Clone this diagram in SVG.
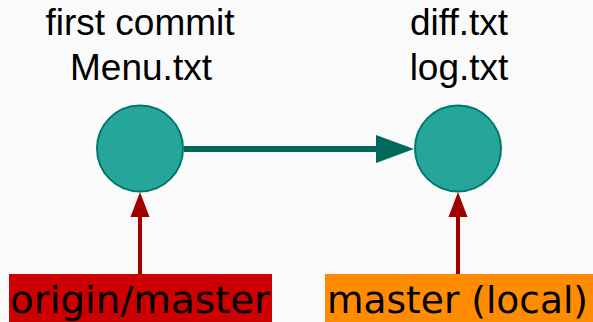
<svg xmlns="http://www.w3.org/2000/svg" width="593" height="322" viewBox="0 0 593 322">
<style>
.lbl{font-family:"Liberation Sans",Arial,sans-serif;font-size:37px;fill:#000;text-anchor:middle}
.ref{font-family:"DejaVu Sans",sans-serif;font-size:38px;fill:#000}
.commit{fill:#26a69a;stroke:#00796b;stroke-width:2}
.conn{stroke:#00695c;stroke-width:6;fill:none}
.ptr{stroke:#a00000;stroke-width:4;fill:none}
</style>
<rect width="593" height="322" fill="#fafafa"/>
<g id="commit1">
<text class="lbl" x="140" y="35">first commit</text>
<text class="lbl" x="141" y="80">Menu.txt</text>
<circle class="commit" cx="140" cy="148.5" r="43"/>
</g>
<g id="commit2">
<text class="lbl" x="459" y="35">diff.txt</text>
<text class="lbl" x="459" y="80">log.txt</text>
<circle class="commit" cx="458" cy="148.5" r="43"/>
</g>
<g id="origin-master">
<rect x="9" y="274" width="263" height="48" fill="#cc0000"/>
<text class="ref" x="10" y="312.5" textLength="260" lengthAdjust="spacingAndGlyphs">origin/master</text>
</g>
<g id="master-local">
<rect x="325" y="274" width="268" height="48" fill="#ff8c00"/>
<text class="ref" x="327" y="312.5" textLength="261" lengthAdjust="spacingAndGlyphs">master (local)</text>
</g>
<g id="connectors">
<line class="conn" x1="184" y1="149" x2="378" y2="149"/>
<polygon points="376,135 414,149 376,163" fill="#00695c"/>
<line class="ptr" x1="140" y1="274" x2="140" y2="215"/>
<polygon points="130.5,217 140,192 149.5,217" fill="#a00000"/>
<line class="ptr" x1="458" y1="274" x2="458" y2="215"/>
<polygon points="448.5,217 458,192 467.5,217" fill="#a00000"/>
</g>
</svg>
